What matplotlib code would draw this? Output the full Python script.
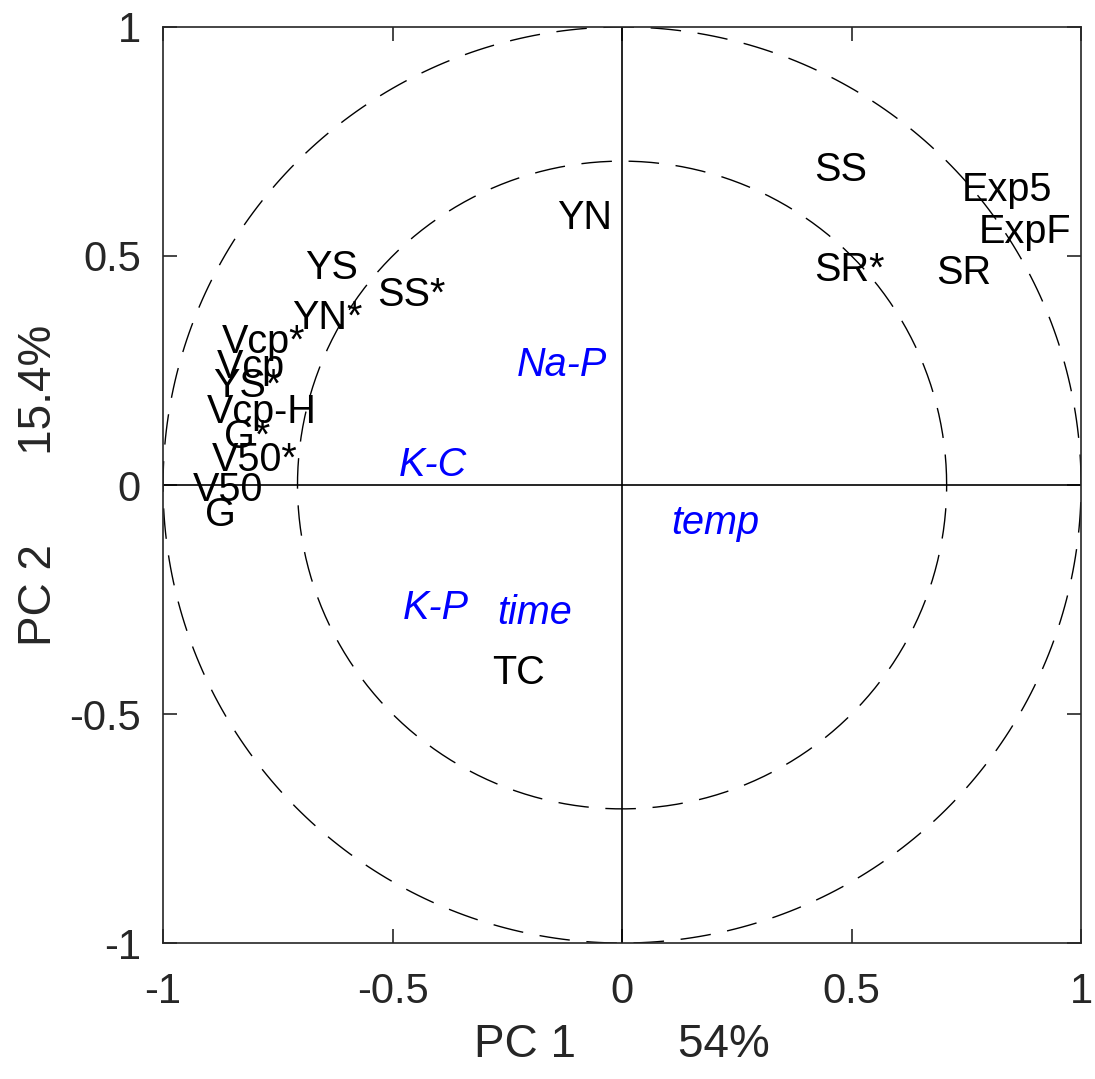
import numpy as np
import matplotlib.pyplot as plt

plt.rcParams['font.family'] = ['Liberation Sans', 'DejaVu Sans']

# sample scores (black labels)
names = ["YS", "SS*", "YN*", "Vcp*", "Vcp", "YS*", "Vcp-H", "G*", "V50*", "V50", "G",
         "YN", "SS", "SR*", "SR", "Exp5", "ExpF", "TC"]
pc1 = [-0.691, -0.534, -0.719, -0.871, -0.882, -0.891, -0.904, -0.867, -0.893, -0.935, -0.908,
       -0.142, 0.418, 0.418, 0.684, 0.741, 0.776, -0.283]
pc2 = [0.474, 0.415, 0.365, 0.312, 0.258, 0.216, 0.159, 0.105, 0.055, -0.011, -0.066,
       0.583, 0.688, 0.469, 0.463, 0.644, 0.552, -0.410]

# variable loadings (blue italic labels)
vars_ = ["Na-P", "K-C", "temp", "K-P", "time"]
v1 = [-0.229, -0.486, 0.107, -0.477, -0.272]
v2 = [0.262, 0.044, -0.083, -0.269, -0.279]

radii = [1.0, np.sqrt(0.5)]

fig = plt.figure(figsize=(10.95, 10.79), dpi=100)
ax = fig.add_axes([0.1489, 0.126, 0.8384, 0.849])

t = np.linspace(0, 2 * np.pi, 400)
for r in radii:
    ax.plot(r * np.cos(t), r * np.sin(t), color='black', lw=1.0, dashes=(22, 12))
ax.axhline(0, color='black', lw=1.2)
ax.axvline(0, color='black', lw=1.2)

for n, x, y in zip(names, pc1, pc2):
    ax.text(x, y, n, fontsize=28.5, color='black', ha='left', va='center')
for n, x, y in zip(vars_, v1, v2):
    ax.text(x, y, n, fontsize=28.5, color='blue', style='italic', ha='left', va='center')

ax.set_xlim(-1, 1)
ax.set_ylim(-1, 1)
ax.set_xticks([-1, -0.5, 0, 0.5, 1])
ax.set_yticks([-1, -0.5, 0, 0.5, 1])
ax.set_xticklabels(["-1", "-0.5", "0", "0.5", "1"])
ax.set_yticklabels(["-1", "-0.5", "0", "0.5", "1"])
ax.tick_params(direction='in', length=10, width=1.2, labelsize=30, colors='#262626',
               top=True, right=True)
ax.tick_params(axis='x', pad=21)
ax.tick_params(axis='y', pad=16)
for s in ax.spines.values():
    s.set_color('#262626')
    s.set_linewidth(1.2)

ax.set_xlabel("PC 1        54%", fontsize=33, color='#262626', labelpad=8)
ax.set_ylabel("PC 2       15.4%", fontsize=33, color='#262626', labelpad=6)

fig.savefig("out.png", dpi=100)
